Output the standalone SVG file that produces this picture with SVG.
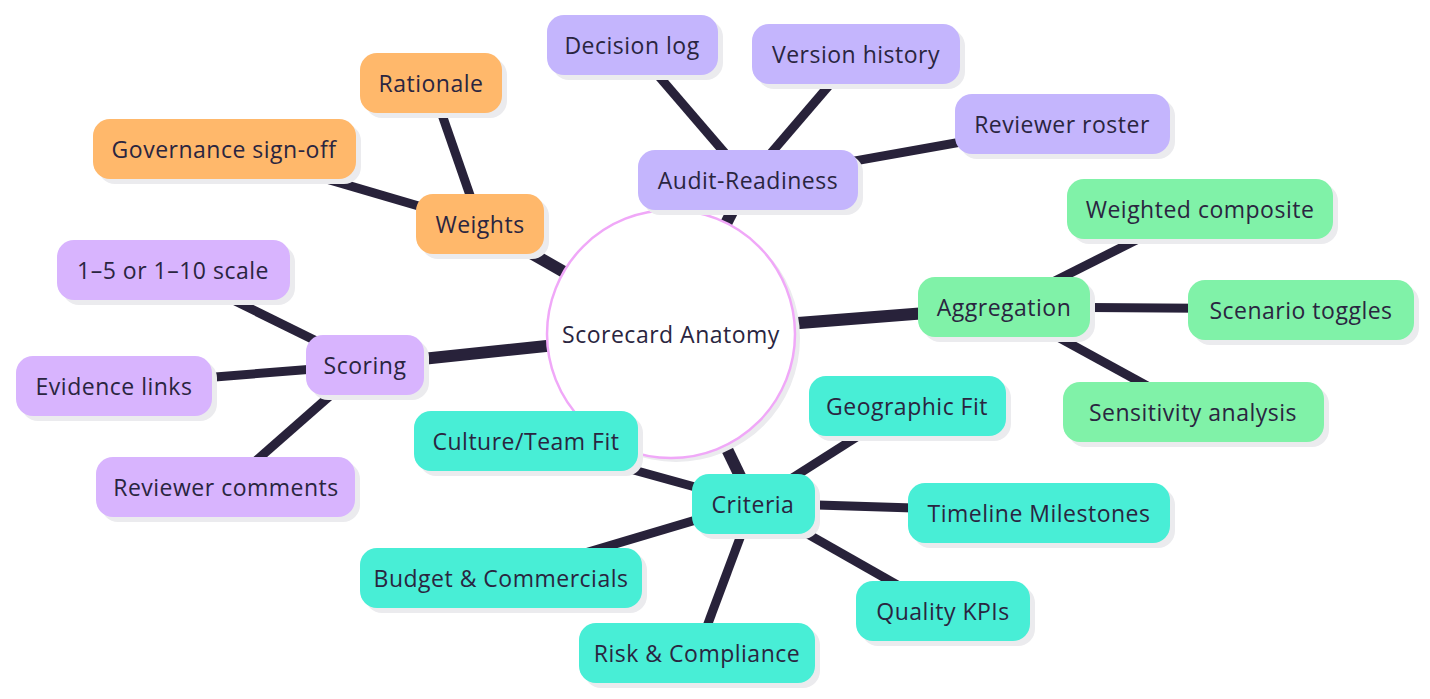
<svg xmlns="http://www.w3.org/2000/svg" width="1430" height="699" viewBox="0 0 1430 699">
<style>
.bg{fill:#ffffff}
.ln{stroke:#28223a;stroke-linecap:butt;fill:none}
.main{stroke-width:12}
.sub{stroke-width:9}
.sh{fill:#ebebee}
.t{font-family:"Open Sans","Noto Sans","Liberation Sans",sans-serif;font-size:23px;letter-spacing:0.5px;fill:#2a2540;text-anchor:middle;dominant-baseline:central}
.or{fill:#ffb86b}
.au{fill:#c4b5fd}
.sc{fill:#d8b4fe}
.gr{fill:#80f2a8}
.te{fill:#48eed6}
</style>
<rect class="bg" x="0" y="0" width="1430" height="699"/>
<g id="connectors">
<line class="ln main" x1="671" y1="333" x2="480" y2="224"/>
<line class="ln main" x1="671" y1="333" x2="748" y2="180"/>
<line class="ln main" x1="671" y1="333" x2="1003" y2="307"/>
<line class="ln main" x1="671" y1="333" x2="753" y2="503"/>
<line class="ln main" x1="671" y1="333" x2="365" y2="365"/>
<line class="ln sub" x1="480" y1="224" x2="431" y2="83"/>
<line class="ln sub" x1="480" y1="224" x2="224" y2="149"/>
<line class="ln sub" x1="748" y1="180" x2="632" y2="45"/>
<line class="ln sub" x1="748" y1="180" x2="856" y2="54"/>
<line class="ln sub" x1="748" y1="180" x2="1062" y2="124"/>
<line class="ln sub" x1="1003" y1="307" x2="1200" y2="208"/>
<line class="ln sub" x1="1003" y1="307" x2="1300" y2="309"/>
<line class="ln sub" x1="1003" y1="307" x2="1193" y2="411"/>
<line class="ln sub" x1="753" y1="503" x2="525" y2="440"/>
<line class="ln sub" x1="753" y1="503" x2="907" y2="405"/>
<line class="ln sub" x1="753" y1="503" x2="1039" y2="512"/>
<line class="ln sub" x1="753" y1="503" x2="943" y2="611"/>
<line class="ln sub" x1="753" y1="503" x2="697" y2="653"/>
<line class="ln sub" x1="753" y1="503" x2="501" y2="578"/>
<line class="ln sub" x1="365" y1="365" x2="172" y2="270"/>
<line class="ln sub" x1="365" y1="365" x2="114" y2="385"/>
<line class="ln sub" x1="365" y1="365" x2="226" y2="487"/>
</g>
<g id="center">
<circle cx="676" cy="338" r="124" class="sh"/>
<circle cx="671" cy="334" r="124" fill="#ffffff" stroke="#f0a8f8" stroke-width="2.5"/>
<text class="t" x="671" y="334">Scorecard Anatomy</text>
</g>
<g id="weights"><rect class="sh" x="421" y="199" width="128" height="60" rx="17"/><rect class="or" x="416" y="194" width="128" height="60" rx="17"/><text class="t" x="480" y="224">Weights</text></g>
<g id="rationale"><rect class="sh" x="365" y="58" width="142" height="60" rx="17"/><rect class="or" x="360" y="53" width="142" height="60" rx="17"/><text class="t" x="431" y="83">Rationale</text></g>
<g id="governance"><rect class="sh" x="98" y="124" width="263" height="60" rx="17"/><rect class="or" x="93" y="119" width="263" height="60" rx="17"/><text class="t" x="224" y="149">Governance sign-off</text></g>
<g id="audit"><rect class="sh" x="643" y="155" width="220" height="60" rx="17"/><rect class="au" x="638" y="150" width="220" height="60" rx="17"/><text class="t" x="748" y="180">Audit-Readiness</text></g>
<g id="decision-log"><rect class="sh" x="552" y="20" width="171" height="60" rx="17"/><rect class="au" x="547" y="15" width="171" height="60" rx="17"/><text class="t" x="632" y="45">Decision log</text></g>
<g id="version-history"><rect class="sh" x="757" y="29" width="208" height="60" rx="17"/><rect class="au" x="752" y="24" width="208" height="60" rx="17"/><text class="t" x="856" y="54">Version history</text></g>
<g id="reviewer-roster"><rect class="sh" x="960" y="99" width="215" height="60" rx="17"/><rect class="au" x="955" y="94" width="215" height="60" rx="17"/><text class="t" x="1062" y="124">Reviewer roster</text></g>
<g id="aggregation"><rect class="sh" x="923" y="282" width="172" height="60" rx="17"/><rect class="gr" x="918" y="277" width="172" height="60" rx="17"/><text class="t" x="1004" y="307">Aggregation</text></g>
<g id="weighted-composite"><rect class="sh" x="1072" y="184" width="266" height="60" rx="17"/><rect class="gr" x="1067" y="179" width="266" height="60" rx="17"/><text class="t" x="1200" y="209">Weighted composite</text></g>
<g id="scenario-toggles"><rect class="sh" x="1193" y="285" width="226" height="60" rx="17"/><rect class="gr" x="1188" y="280" width="226" height="60" rx="17"/><text class="t" x="1301" y="310">Scenario toggles</text></g>
<g id="sensitivity"><rect class="sh" x="1068" y="387" width="261" height="60" rx="17"/><rect class="gr" x="1063" y="382" width="261" height="60" rx="17"/><text class="t" x="1193" y="412">Sensitivity analysis</text></g>
<g id="criteria"><rect class="sh" x="697" y="479" width="123" height="60" rx="17"/><rect class="te" x="692" y="474" width="123" height="60" rx="17"/><text class="t" x="753" y="504">Criteria</text></g>
<g id="geographic"><rect class="sh" x="814" y="381" width="197" height="60" rx="17"/><rect class="te" x="809" y="376" width="197" height="60" rx="17"/><text class="t" x="907" y="406">Geographic Fit</text></g>
<g id="culture"><rect class="sh" x="419" y="416" width="224" height="60" rx="17"/><rect class="te" x="414" y="411" width="224" height="60" rx="17"/><text class="t" x="526" y="441">Culture/Team Fit</text></g>
<g id="timeline"><rect class="sh" x="913" y="488" width="262" height="60" rx="17"/><rect class="te" x="908" y="483" width="262" height="60" rx="17"/><text class="t" x="1039" y="513">Timeline Milestones</text></g>
<g id="budget"><rect class="sh" x="365" y="553" width="282" height="60" rx="17"/><rect class="te" x="360" y="548" width="282" height="60" rx="17"/><text class="t" x="501" y="578">Budget &amp; Commercials</text></g>
<g id="quality"><rect class="sh" x="861" y="586" width="174" height="60" rx="17"/><rect class="te" x="856" y="581" width="174" height="60" rx="17"/><text class="t" x="943" y="611">Quality KPIs</text></g>
<g id="risk"><rect class="sh" x="584" y="628" width="236" height="60" rx="17"/><rect class="te" x="579" y="623" width="236" height="60" rx="17"/><text class="t" x="697" y="653">Risk &amp; Compliance</text></g>
<g id="scoring"><rect class="sh" x="311" y="340" width="118" height="60" rx="17"/><rect class="sc" x="306" y="335" width="118" height="60" rx="17"/><text class="t" x="365" y="365">Scoring</text></g>
<g id="scale"><rect class="sh" x="62" y="245" width="233" height="60" rx="17"/><rect class="sc" x="57" y="240" width="233" height="60" rx="17"/><text class="t" x="173" y="270">1–5 or 1–10 scale</text></g>
<g id="evidence"><rect class="sh" x="21" y="361" width="196" height="60" rx="17"/><rect class="sc" x="16" y="356" width="196" height="60" rx="17"/><text class="t" x="114" y="386">Evidence links</text></g>
<g id="reviewer-comments"><rect class="sh" x="101" y="462" width="259" height="60" rx="17"/><rect class="sc" x="96" y="457" width="259" height="60" rx="17"/><text class="t" x="226" y="487">Reviewer comments</text></g>
</svg>
